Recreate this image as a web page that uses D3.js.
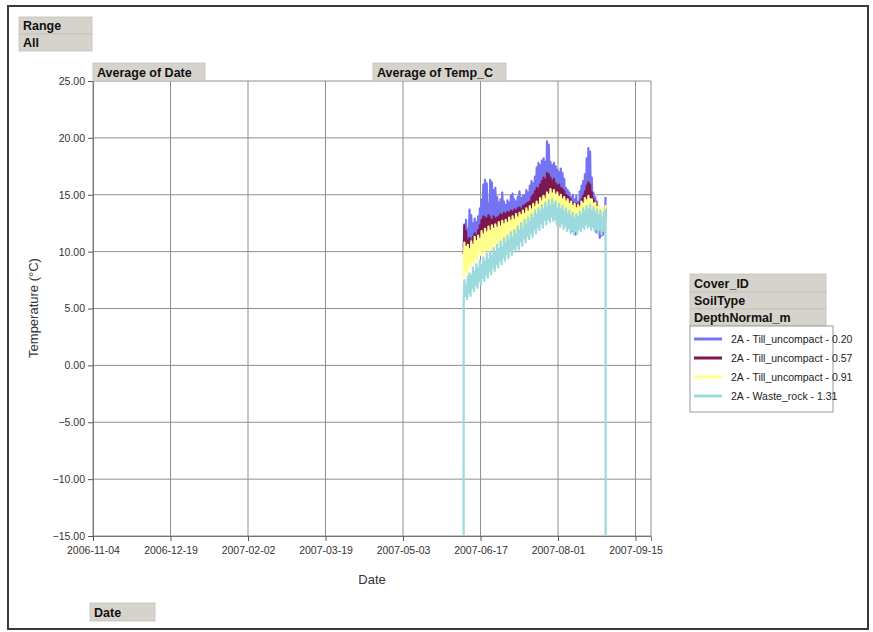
<!DOCTYPE html>
<html><head><meta charset="utf-8">
<script src="https://cdn.jsdelivr.net/npm/d3@7"></script>
<style>body{margin:0;background:#fff;font-family:Arial,"Liberation Sans",sans-serif}</style>
</head><body><svg id="c" width="873" height="632"></svg>
<script>
// ---- data ----
const xTickLabels = ["2006-11-04","2006-12-19","2007-02-02","2007-03-19","2007-05-03","2007-06-17","2007-08-01","2007-09-15"];
const yTicks = [-15,-10,-5,0,5,10,15,20,25];
const seriesNames = ["2A - Till_uncompact - 0.20","2A - Till_uncompact - 0.57","2A - Till_uncompact - 0.91","2A - Waste_rock - 1.31"];
const seriesColors = ["#7474f2","#7d1752","#ffff8c","#9cdade"];
const firstDay = "2007-06-07"; // daily readings start
// daily night (low) and afternoon (high) readings, Temp_C
const blueLow = [10.4,10.9,10.3,11.1,10.6,10.2,10.9,10.7,11.4,11.2, 12.1,12.0,12.8,12.2,12.7,12.4,13.1,12.6,12.9,12.5, 13.1,12.8,13.0,12.9,13.4,12.9,13.5,13.0,13.6,13.1, 13.7,13.3,13.8,13.4,13.9,13.6,14.1,13.8,14.3,14.1, 14.6,14.3,14.9,14.6,15.2,15.0,15.6,15.1,15.8,15.5, 15.7,15.1,15.6,14.8,15.0,14.4,14.7,14.1,14.1,13.3, 13.4,12.6,12.6,11.8,12.0,11.5,12.1,12.2,12.9,13.0, 13.6,13.7,14.2,13.5,13.4,12.5,12.4,11.7,11.7,11.2, 11.4,11.5,12.2];
const blueHigh = [12.4,12.8,12.0,13.7,13.2,12.5,12.9,12.6,13.1,13.8, 14.6,15.9,16.3,16.0,14.2,16.3,16.1,15.4,15.6,14.8, 14.3,14.6,15.2,14.4,14.1,14.5,14.3,14.9,15.1,14.6, 14.4,14.8,15.3,14.7,14.9,15.0,15.4,15.2,15.8,16.2, 16.0,16.6,17.4,17.8,17.6,18.0,18.2,17.9,19.7,19.4, 17.9,17.6,17.8,17.5,17.2,17.0,17.3,16.9,16.4,15.6, 15.4,15.2,14.8,15.0,14.6,14.9,14.4,15.3,15.8,16.2, 16.8,18.2,19.1,18.8,16.5,15.2,14.8,14.4,13.9,13.2, 12.9,13.6,14.8];
const purpleLow = [9.8,9.4,9.7,9.2,9.9,9.6,10.3,9.9,10.8,10.5, 11.4,11.1,11.8,11.3,11.9,11.4,12.0,11.7,11.9,11.8, 12.3,11.9,12.4,12.1,12.4,12.2,12.7,12.3,12.8,12.5, 13.0,12.6,13.1,12.9,13.3,13.0,13.5,13.2,13.7,13.4, 14.0,13.8,14.3,14.0,14.6,14.3,15.0,14.7,15.2,14.9, 15.2,14.7,15.0,14.5,14.8,14.3,14.6,14.0,14.2,13.6, 13.9,13.3,13.6,13.0,13.3,12.8,13.4,13.2,13.8,13.6, 14.2,14.0,14.5,13.9,14.0,13.3,13.5,12.8,12.8,12.0, 11.7,11.8,12.5];
const purpleHigh = [12.3,11.8,11.0,11.2,10.9,11.3,11.6,11.4,11.9,12.3, 12.8,13.1,13.0,12.9,13.2,13.0,12.8,13.1,12.9,13.0, 13.1,13.3,13.2,13.4,13.3,13.5,13.4,13.6,13.5,13.7, 13.6,13.8,13.9,13.7,14.0,14.1,14.2,14.3,14.4,14.8, 15.0,15.3,15.6,15.5,15.9,16.2,16.5,16.3,16.9,16.8, 16.5,16.2,16.4,16.0,15.8,15.9,15.6,15.5,15.3,15.0, 14.9,14.7,14.5,14.3,14.1,14.2,14.0,14.3,14.6,14.9, 15.3,15.8,16.1,15.9,15.2,14.6,14.4,14.1,13.8,13.2, 12.6,13.0,13.8];
const yellowLow = [7.8,8.3,8.1,8.8,8.7,9.3,9.0,9.6,9.3,9.9, 9.7,10.2,9.9,10.4,10.1,10.6,10.2,10.8,10.4,10.9, 10.6,11.1,10.8,11.3,10.9,11.4,11.1,11.6,11.3,11.8, 11.5,12.0,11.7,12.2,11.9,12.4,12.1,12.6,12.3,12.8, 12.5,13.0,12.7,13.2,13.0,13.5,13.2,13.7,13.4,13.9, 13.6,14.1,13.8,14.1,13.6,13.9,13.4,13.7,13.2,13.5, 13.0,13.3,12.8,13.1,12.6,13.0,12.7,13.2,12.9,13.4, 13.1,13.6,13.3,13.6,13.0,13.2,12.7,13.0,12.5,12.8, 12.3,12.7,12.6];
const yellowHigh = [10.8,10.4,10.6,10.2,10.9,10.6,11.3,10.9,11.4,11.1, 11.8,11.5,12.0,11.7,12.2,11.8,12.3,12.0,12.4,12.1, 12.6,12.2,12.7,12.4,12.8,12.5,13.0,12.7,13.1,12.8, 13.3,13.0,13.4,13.2,13.6,13.3,13.8,13.5,14.0,13.7, 14.2,13.9,14.4,14.1,14.7,14.4,14.9,14.6,15.2,15.0, 15.5,15.1,15.4,15.0,15.2,14.8,15.0,14.6,14.8,14.4, 14.6,14.2,14.4,14.0,14.2,13.8,14.1,13.9,14.4,14.2, 14.7,14.5,14.9,14.6,14.6,14.2,14.3,13.9,14.1,13.7, 13.9,13.6,14.1];
const cyanLow = [5.7,6.1,5.8,6.4,6.1,6.8,6.5,7.1,6.8,7.4, 7.1,7.7,7.4,8.0,7.7,8.3,8.0,8.6,8.3,8.9, 8.6,9.2,8.9,9.5,9.2,9.8,9.4,10.1,9.7,10.3, 10.0,10.6,10.2,10.9,10.5,11.2,10.8,11.4,11.1,11.7, 11.3,12.0,11.6,12.2,11.9,12.5,12.1,12.8,12.4,12.9, 12.6,13.1,12.7,12.9,12.4,12.7,12.2,12.5,12.0,12.3, 11.8,12.1,11.6,11.9,11.5,11.8,11.6,12.0,11.8,12.2, 12.0,12.4,12.1,12.3,11.9,12.2,11.8,12.0,11.6,11.9, 11.5,11.8,11.9];
const cyanHigh = [7.5,7.0,7.8,8.1,7.9,8.6,8.2,8.9,8.5,9.2, 8.8,9.5,9.1,9.8,9.3,10.0,9.6,10.3,9.9,10.6, 10.2,10.9,10.4,11.2,10.7,11.4,11.0,11.7,11.2,11.9, 11.5,12.2,11.8,12.5,12.0,12.8,12.3,13.0,12.6,13.3, 12.9,13.6,13.2,13.8,13.5,14.1,13.7,14.3,13.9,14.5, 14.0,14.6,14.1,14.4,13.8,14.2,13.7,14.0,13.5,13.8, 13.3,13.6,13.1,13.4,12.9,13.3,13.0,13.5,13.2,13.8, 13.5,14.0,13.7,14.1,13.6,13.9,13.4,13.7,13.2,13.6, 13.0,13.5,13.6];
const cyanErrorValue = -99.9; // logger error readings at install and removal

// ---- layout ----
const svg = d3.select("#c");
const L = 93, R = 651, T = 81, B = 536;
const parse = d3.timeParse("%Y-%m-%d");
const fmt = d3.timeFormat("%Y-%m-%d");
const x = d3.scaleTime().domain([parse("2006-11-04"), parse("2007-09-24")]).range([L, R]);
const y = d3.scaleLinear().domain([-15, 25]).range([B, T]);

// frame
svg.append("rect").attr("x",8).attr("y",6).attr("width",860).attr("height",623)
  .attr("fill","#fff").attr("stroke","#3a3a3a").attr("stroke-width",2);

// grid
const tickDates = xTickLabels.map(parse);
const g = svg.append("g");
g.selectAll(".vg").data(tickDates).join("line")
  .attr("x1",d=>x(d)).attr("x2",d=>x(d)).attr("y1",T).attr("y2",B)
  .attr("stroke","#8e8e8e").attr("stroke-width",1);
g.selectAll(".hg").data(yTicks).join("line")
  .attr("x1",L).attr("x2",R).attr("y1",d=>y(d)).attr("y2",d=>y(d))
  .attr("stroke","#8e8e8e").attr("stroke-width",1);
g.append("line").attr("x1",R).attr("x2",R).attr("y1",T).attr("y2",B).attr("stroke","#8e8e8e");

// axes
const ya = svg.append("g").attr("transform",`translate(${L},0)`)
  .call(d3.axisLeft(y).tickValues(yTicks).tickFormat(d3.format(".2f")).tickSize(5).tickPadding(3));
const xa = svg.append("g").attr("transform",`translate(0,${B})`)
  .call(d3.axisBottom(x).tickValues(tickDates).tickFormat(fmt).tickSize(5).tickPadding(6));
[ya,xa].forEach(a=>{
  a.selectAll("path").attr("stroke","#777");
  a.selectAll("line").attr("stroke","#555");
  a.selectAll("text").attr("font-size","10.5px").attr("fill","#333").attr("font-family","Arial, Liberation Sans, sans-serif");
});

// series
function buildSeries(low, high, err) {
  const start = parse(firstDay);
  const pts = [];
  if (err !== undefined) pts.push({d: d3.timeHour.offset(start, 0), v: err});
  low.forEach((lv, i) => {
    const day = d3.timeDay.offset(start, i);
    pts.push({d: d3.timeHour.offset(day, 6), v: lv});
    pts.push({d: d3.timeHour.offset(day, 15), v: high[i]});
  });
  if (err !== undefined) pts.push({d: d3.timeHour.offset(d3.timeDay.offset(start, low.length - 1), 20), v: err});
  return pts;
}
const series = [
  buildSeries(blueLow, blueHigh),
  buildSeries(purpleLow, purpleHigh),
  buildSeries(yellowLow, yellowHigh),
  buildSeries(cyanLow, cyanHigh, cyanErrorValue)
];
svg.append("clipPath").attr("id","clip").append("rect").attr("x",L).attr("y",T).attr("width",R-L).attr("height",B-T);
const line = d3.line().x(p=>x(p.d)).y(p=>y(p.v));
svg.append("g").attr("clip-path","url(#clip)").selectAll("path").data(series).join("path")
  .attr("d",line).attr("fill","none").attr("stroke",(d,i)=>seriesColors[i])
  .attr("stroke-width",2.2).attr("stroke-linejoin","round");

// gray field buttons
function btn(x0,y0,w,h,text){
  svg.append("rect").attr("x",x0).attr("y",y0).attr("width",w).attr("height",h)
    .attr("fill","#d6d3cc").attr("stroke","#c4c1ba").attr("stroke-width",0.8);
  svg.append("text").attr("x",x0+4).attr("y",y0+h/2+4.5).text(text)
    .attr("font-size","12.5px").attr("font-weight","bold").attr("fill","#111");
}
btn(19,17,73,17,"Range");
btn(19,34,73,17,"All");
btn(93,63,112,18,"Average of Date");
btn(373,63,133,18,"Average of Temp_C");
btn(90,603,65,18,"Date");
btn(690,274,136,18,"Cover_ID");
btn(690,292,136,17,"SoilType");
btn(690,309,136,17,"DepthNormal_m");

// legend
svg.append("rect").attr("x",690).attr("y",326).attr("width",143).attr("height",86)
  .attr("fill","#fff").attr("stroke","#999").attr("stroke-width",1);
const lg = svg.append("g").selectAll("g").data(seriesNames).join("g")
  .attr("transform",(d,i)=>`translate(0,${339 + i*19})`);
lg.append("line").attr("x1",694).attr("x2",722).attr("y1",0).attr("y2",0)
  .attr("stroke",(d,i)=>seriesColors[i]).attr("stroke-width",3);
lg.append("text").attr("x",731).attr("y",4).text(d=>d)
  .attr("font-size","10.5px").attr("fill","#222");

// axis titles
svg.append("text").attr("x",372).attr("y",584).attr("text-anchor","middle")
  .attr("font-size","13px").attr("fill","#333").text("Date");
svg.append("text").attr("transform","translate(38,308) rotate(-90)").attr("text-anchor","middle")
  .attr("font-size","13px").attr("fill","#333").text("Temperature (°C)");
</script>
</body></html>
